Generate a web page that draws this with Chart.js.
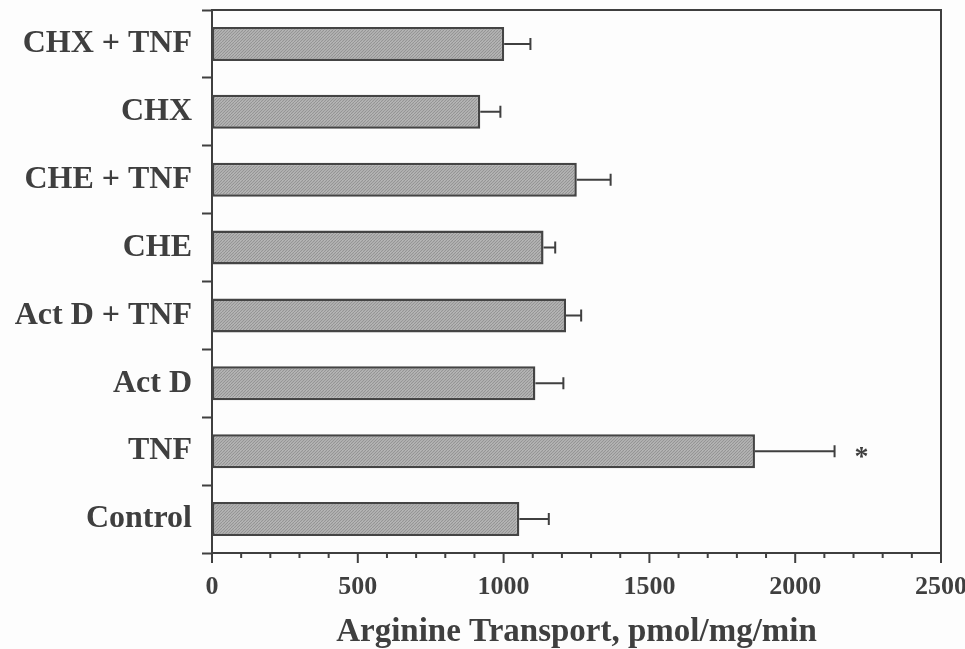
<!DOCTYPE html>
<html>
<head>
<meta charset="utf-8">
<title>Arginine Transport</title>
<script src="https://cdn.jsdelivr.net/npm/chart.js@4.4.1/dist/chart.umd.min.js"></script>
<style>
  html, body { margin: 0; padding: 0; background: #fdfdfd; }
  #wrap { width: 965px; height: 649px; position: relative; }
</style>
</head>
<body>
<div id="wrap"><canvas id="chart" width="965" height="649"></canvas></div>
<script>
// Treatment groups, listed top to bottom
const categories = ['CHX + TNF', 'CHX', 'CHE + TNF', 'CHE', 'Act D + TNF', 'Act D', 'TNF', 'Control'];
// Mean arginine transport (pmol/mg/min)
const transport = [1002, 920, 1251, 1137, 1214, 1109, 1862, 1054];
// Standard error (drawn on the positive side only)
const sem = [90, 69, 116, 40, 52, 96, 273, 101];
// Significance markers
const marks = ['', '', '', '', '', '', '*', ''];
// Axis ticks
const xMin = 0, xMax = 2500, xMajorStep = 500, xMinorStep = 100;

const ink = '#3f3f3f';
const serif = '"Liberation Serif", "Times New Roman", serif';

// Fine diagonal hatch used for the bar fill
function hatchPattern(ctx) {
  const c = document.createElement('canvas');
  c.width = 6; c.height = 6;
  const g = c.getContext('2d');
  g.fillStyle = '#bdbdbd';
  g.fillRect(0, 0, 6, 6);
  g.strokeStyle = '#939393';
  g.lineWidth = 1.1;
  for (let k = -6; k <= 12; k += 3) {
    g.beginPath();
    g.moveTo(k, 6);
    g.lineTo(k + 6, 0);
    g.stroke();
  }
  return ctx.createPattern(c, 'repeat');
}

// Error bars, minor x ticks, frame and significance markers
const decorations = {
  id: 'decorations',
  afterDatasetsDraw(chart) {
    const ctx = chart.ctx;
    const xs = chart.scales.x, ys = chart.scales.y;
    const area = chart.chartArea;
    ctx.save();
    ctx.strokeStyle = ink;
    ctx.lineWidth = 2;
    // error bars
    transport.forEach((v, i) => {
      const y = ys.getPixelForValue(i);
      const x0 = xs.getPixelForValue(v);
      const x1 = xs.getPixelForValue(v + sem[i]);
      ctx.beginPath();
      ctx.moveTo(x0, y);
      ctx.lineTo(x1, y);
      ctx.moveTo(x1, y - 6);
      ctx.lineTo(x1, y + 6);
      ctx.stroke();
      if (marks[i]) {
        ctx.fillStyle = ink;
        ctx.font = 'bold 28px ' + serif;
        ctx.textAlign = 'center';
        ctx.textBaseline = 'middle';
        ctx.fillText(marks[i], x1 + 27, y + 7);
      }
    });
    // top and right frame
    ctx.beginPath();
    ctx.moveTo(area.left, area.top);
    ctx.lineTo(area.right, area.top);
    ctx.lineTo(area.right, area.bottom);
    ctx.stroke();
    // x-axis tick marks
    for (let t = xMin; t <= xMax; t += xMinorStep) {
      const x = xs.getPixelForValue(t);
      const len = (t % xMajorStep === 0) ? 10 : 5;
      ctx.beginPath();
      ctx.moveTo(x, area.bottom);
      ctx.lineTo(x, area.bottom + len);
      ctx.stroke();
    }
    ctx.restore();
  }
};

const ctx = document.getElementById('chart').getContext('2d');
new Chart(ctx, {
  type: 'bar',
  data: {
    labels: categories,
    datasets: [{
      data: transport,
      backgroundColor: hatchPattern(ctx),
      borderColor: '#444444',
      borderWidth: 2.5,
      borderSkipped: false,
      categoryPercentage: 1,
      barPercentage: 0.5
    }]
  },
  options: {
    indexAxis: 'y',
    responsive: false,
    animation: false,
    layout: { padding: { left: 0, right: 24, top: 10, bottom: 0 } },
    plugins: { legend: { display: false }, tooltip: { enabled: false } },
    scales: {
      x: {
        min: xMin,
        max: xMax,
        grid: { display: false },
        border: { display: true, color: ink, width: 2 },
        ticks: {
          stepSize: xMajorStep,
          padding: 11,
          color: ink,
          maxRotation: 0,
          callback: (v) => String(v),
          font: { family: serif, size: 26, weight: 'bold' }
        },
        title: {
          display: true,
          text: 'Arginine Transport, pmol/mg/min',
          color: ink,
          padding: { top: 0, bottom: 0 },
          font: { family: serif, size: 33, weight: 'bold', lineHeight: 1 }
        },
        afterFit(scale) {
          scale.height = 96;
          scale.paddingLeft = 0;
          scale.paddingRight = 0;
        }
      },
      y: {
        grid: {
          display: true,
          offset: true,
          drawOnChartArea: false,
          tickLength: 10,
          tickColor: ink,
          tickWidth: 2
        },
        border: { display: true, color: ink, width: 2 },
        ticks: {
          padding: 10,
          color: ink,
          font: { family: serif, size: 32, weight: 'bold' }
        },
        afterFit(scale) {
          scale.width = 212;
          scale.paddingTop = 0;
          scale.paddingBottom = 0;
        }
      }
    }
  },
  plugins: [decorations]
});
</script>
</body>
</html>
